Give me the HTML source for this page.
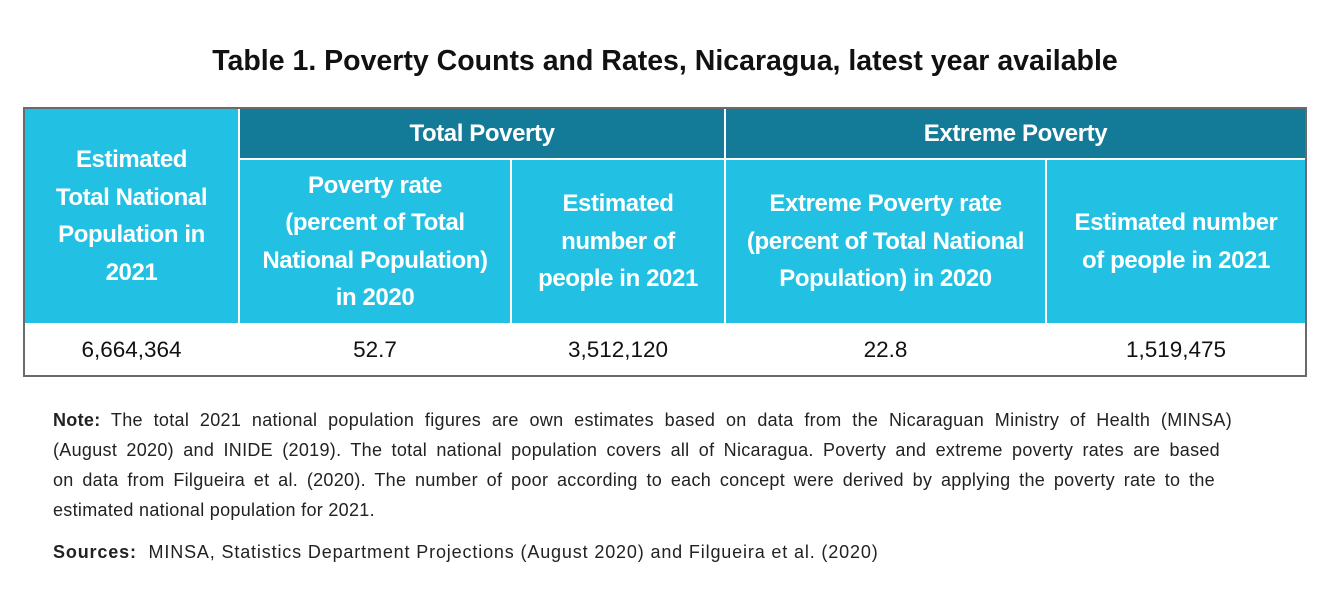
<!DOCTYPE html>
<html><head><meta charset="utf-8"><style>
body{margin:0;width:1342px;height:600px;background:#fff;font-family:"Liberation Sans",sans-serif;position:relative;overflow:hidden}
.a{position:absolute;box-sizing:border-box}
.h{display:flex;align-items:center;justify-content:center;text-align:center;color:#fff;font-weight:bold;font-size:24px;line-height:37.5px;letter-spacing:-0.4px;background:#22c0e2}
.d{display:flex;align-items:center;justify-content:center;font-size:22.5px;color:#111}
.n{font-size:18px;color:#222;line-height:30px;letter-spacing:0.3px}
.j{text-align:justify;text-align-last:justify;white-space:nowrap}
</style></head><body>
<div class="a" style="left:0;top:45px;width:1330px;text-align:center;font-weight:bold;font-size:28.5px;letter-spacing:0px;color:#111">Table 1. Poverty Counts and Rates, Nicaragua, latest year available</div>
<div class="a" style="left:23px;top:107px;width:1284px;height:270px;border:2px solid #6a6a6a;background:#fff">
 <div class="a h" style="left:0;top:0;width:213px;height:214px">Estimated<br>Total National<br>Population in<br>2021</div>
 <div class="a h" style="left:215px;top:0;width:484px;height:49px;background:#137b98">Total Poverty</div>
 <div class="a h" style="left:701px;top:0;width:579px;height:49px;background:#137b98">Extreme Poverty</div>
 <div class="a h" style="left:215px;top:51px;width:270px;height:163px">Poverty rate<br>(percent of Total<br>National Population)<br>in 2020</div>
 <div class="a h" style="left:487px;top:51px;width:212px;height:163px">Estimated<br>number of<br>people in 2021</div>
 <div class="a h" style="left:701px;top:51px;width:319px;height:163px">Extreme Poverty rate<br>(percent of Total National<br>Population) in 2020</div>
 <div class="a h" style="left:1022px;top:51px;width:258px;height:163px">Estimated number<br>of people in 2021</div>
 <div class="a d" style="left:0;top:216px;width:213px;height:50px">6,664,364</div>
 <div class="a d" style="left:215px;top:216px;width:270px;height:50px">52.7</div>
 <div class="a d" style="left:487px;top:216px;width:212px;height:50px">3,512,120</div>
 <div class="a d" style="left:701px;top:216px;width:319px;height:50px">22.8</div>
 <div class="a d" style="left:1022px;top:216px;width:258px;height:50px">1,519,475</div>
</div>
<div class="a n" style="left:53px;top:405px;width:1180px">
<div class="j" style="width:1179px"><b>Note:</b> The total 2021 national population figures are own estimates based on data from the Nicaraguan Ministry of Health (MINSA)</div>
<div class="j" style="width:1167px">(August 2020) and INIDE (2019). The total national population covers all of Nicaragua. Poverty and extreme poverty rates are based</div>
<div class="j" style="width:1162px">on data from Filgueira et al. (2020). The number of poor according to each concept were derived by applying the poverty rate to the</div>
<div>estimated national population for 2021.</div>
</div>
<div class="a n" style="left:53px;top:537px;width:1240px;letter-spacing:0.85px"><b>Sources:</b>&nbsp; MINSA, Statistics Department Projections (August 2020) and Filgueira et al. (2020)</div>
</body></html>
